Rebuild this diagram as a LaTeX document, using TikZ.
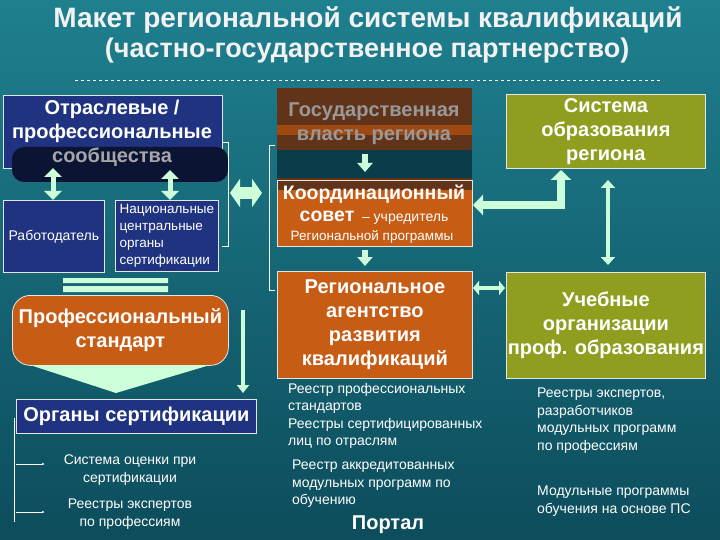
\documentclass[tikz,border=0pt]{standalone}
\usepackage{fontspec}
\setmainfont{Liberation Sans}
\usetikzlibrary{arrows.meta}
\definecolor{navy}{rgb}{0.12,0.2,0.5}
\definecolor{orng}{rgb}{0.78,0.36,0.08}
\definecolor{brwn}{rgb}{0.38,0.2,0.1}
\definecolor{olive}{rgb}{0.56,0.62,0.12}
\definecolor{lgreen}{rgb}{0.8,1,0.85}
\definecolor{bgtop}{rgb}{0.12,0.5,0.56}
\definecolor{bgbot}{rgb}{0.05,0.3,0.36}
\tikzset{
 box/.style={draw=white!80!gray,line width=0.8pt,align=center,text=white,inner sep=1pt},
 bfont/.style={font=\fontsize{20}{24}\selectfont\bfseries},
 sfont/.style={font=\fontsize{14}{17.5}\selectfont},
 darr/.style={lgreen,line width=7pt,{Triangle[length=9pt,width=17pt]}-{Triangle[length=9pt,width=17pt]}},
 sarr/.style={lgreen,line width=5pt,-{Triangle[length=9pt,width=15pt]}},
 txt/.style={text=white,sfont,align=center},
}
\begin{document}
\begin{tikzpicture}[x=1pt,y=-1pt]
\shade[top color=bgtop,bottom color=bgbot] (0,0) rectangle (720,540);
\useasboundingbox (0,0) rectangle (720,540);
\node[text=white!90!gray,font=\fontsize{28}{30}\selectfont\bfseries] (t1) at (368,20) {Макет региональной системы квалификаций};
\node[text=white!90!gray,font=\fontsize{27}{30}\selectfont\bfseries] (t2) at (367,51) {(частно-государственное партнерство)};
\draw[white,dashed,line width=0.8pt] (75,80) coordinate (d1) -- (660,80) coordinate (d2);
% left column
\node[box,fill=navy,minimum width=219,minimum height=73,anchor=north west] (otr) at (3,95) {};
\fill[navy!40!black,rounded corners=12pt] (12,147) rectangle (228,182);
\node[bfont,text=white,align=center] (otrt) at (112,121) {Отраслевые /\\профессиональные};
\node[bfont,text=gray!70] (soob) at (112,157) {сообщества};
\node[box,fill=navy,minimum width=101,minimum height=72,anchor=north west,sfont] (rab) at (3,200) {Работодатель};
\node[box,fill=navy,minimum width=103,minimum height=71,anchor=north west,font=\fontsize{13.5}{17}\selectfont,align=left] (nac) at (115,200) {Национальные\\центральные\\органы\\сертификации};
\draw[darr,line width=5pt] (53,168) coordinate (a1) -- (53,200) coordinate (a2);
\draw[darr,line width=5pt] (170,170) coordinate (a3) -- (170,200) coordinate (a4);
\draw[white,line width=0.6pt] (222,142) -- (228,142) -- (228,246) -- (222,246);
\draw[darr,line width=12pt,{Triangle[length=10pt,width=28pt]}-{Triangle[length=10pt,width=28pt]}] (230,193) coordinate (h1) -- (262,193) coordinate (h2);
\draw[white,line width=0.6pt] (275,145) -- (269,145) -- (269,290) -- (275,290);
\fill[lgreen] (63,278) rectangle (168,283) (63,286) rectangle (168,292);
\node[box,fill=orng,rounded corners=18pt,minimum width=216,minimum height=70,anchor=north west,bfont] (ps) at (12,295) {Профессиональный\\стандарт};
\fill[lgreen] (30,365) -- (210,365) -- (116,393) -- cycle;
\draw[lgreen,line width=4pt,-{Triangle[length=8pt,width=12pt]}] (243,310) coordinate (v1) -- (243,393) coordinate (v2);
\node[box,fill=navy,minimum width=240,minimum height=34,anchor=north west,bfont] (org) at (16,399) {Органы сертификации};
\draw[white,line width=0.6pt] (14,418) coordinate (l1) -- (14,522) coordinate (l2);
\draw[white,line width=1pt,-{Latex[length=3pt]}] (16,464) coordinate (s1) -- (45,464) coordinate (s2);
\draw[white,line width=1pt,-{Latex[length=3pt]}] (16,512) coordinate (s3) -- (45,512) coordinate (s4);
\node[txt] (so) at (130,470) {Система оценки при\\сертификации};
\node[txt] (re) at (130,514) {Реестры экспертов\\по профессиям};
% middle column
\fill[brwn] (277,88) rectangle (472,150);
\fill[orng!80!black] (277,125) rectangle (472,135);
\fill[bgbot!80!black] (277,150) rectangle (472,178);
\fill[brwn] (277,178) rectangle (472,190);
\node[bfont,text=gray!80,align=center] (gos) at (374,124) {Государственная\\власть региона};
\node[box,fill=orng,minimum width=195,minimum height=56,anchor=north west,draw=none] (kor) at (277,190) {};
\draw[white!80!gray,line width=0.8pt] (277,180) rectangle (472,246);
\node[text=white,align=center,font=\fontsize{19.5}{22}\selectfont\bfseries] (kort) at (374,205) {Координационный\\совет {\mdseries\fontsize{14}{16}\selectfont\,– учредитель}};
\node[txt,font=\fontsize{13.5}{15}\selectfont] (kort2) at (372,237) {Региональной программы};
\draw[sarr,line width=6pt] (365,154) coordinate (g1) -- (365,172) coordinate (g2);
\draw[sarr,line width=6pt] (365,250) coordinate (g3) -- (365,266) coordinate (g4);
\node[box,fill=orng,minimum width=195,minimum height=107,anchor=north west,bfont] (rag) at (277,271) {Региональное\\агентство\\развития\\квалификаций};
% right column
\node[box,fill=olive,minimum width=199,minimum height=74,anchor=north west,bfont] (sys) at (506,94) {Система\\образования\\региона};
\node[box,fill=olive,minimum width=199,minimum height=106,anchor=north west,bfont] (uch) at (506,272) {Учебные\\организации\\проф. образования};
\draw[lgreen,line width=8pt,{Triangle[length=10pt,width=20pt]}-{Triangle[length=10pt,width=20pt]}] (473,205) coordinate (k1) -- (561,205) coordinate (k2) -- (561,170) coordinate (k3);
\draw[darr,line width=4pt,{Triangle[length=8pt,width=14pt]}-{Triangle[length=8pt,width=14pt]}] (608,180) coordinate (u1) -- (608,265) coordinate (u2);
\draw[darr,line width=4pt,{Triangle[length=6pt,width=14pt]}-{Triangle[length=6pt,width=14pt]}] (473,288) coordinate (r1) -- (505,288) coordinate (r2);
% bottom texts
\node[txt,align=left,anchor=north west,inner sep=0pt] (rp) at (288,383) {Реестр профессиональных\\стандартов\\Реестры сертифицированных\\лиц по отраслям};
\node[txt,align=left,anchor=north west,inner sep=0pt] (ra) at (292,460) {Реестр аккредитованных\\модульных программ по\\обучению};
\node[text=white,font=\fontsize{20}{24}\selectfont\bfseries] (port) at (388,525) {Портал};
\node[txt,align=left,anchor=north west,inner sep=0pt] (rex) at (537,388) {Реестры экспертов,\\разработчиков\\модульных программ\\по профессиям};
\node[txt,align=left,anchor=north west,inner sep=0pt] (mod) at (537,486) {Модульные программы\\обучения на основе ПС};
\end{tikzpicture}
\end{document}
